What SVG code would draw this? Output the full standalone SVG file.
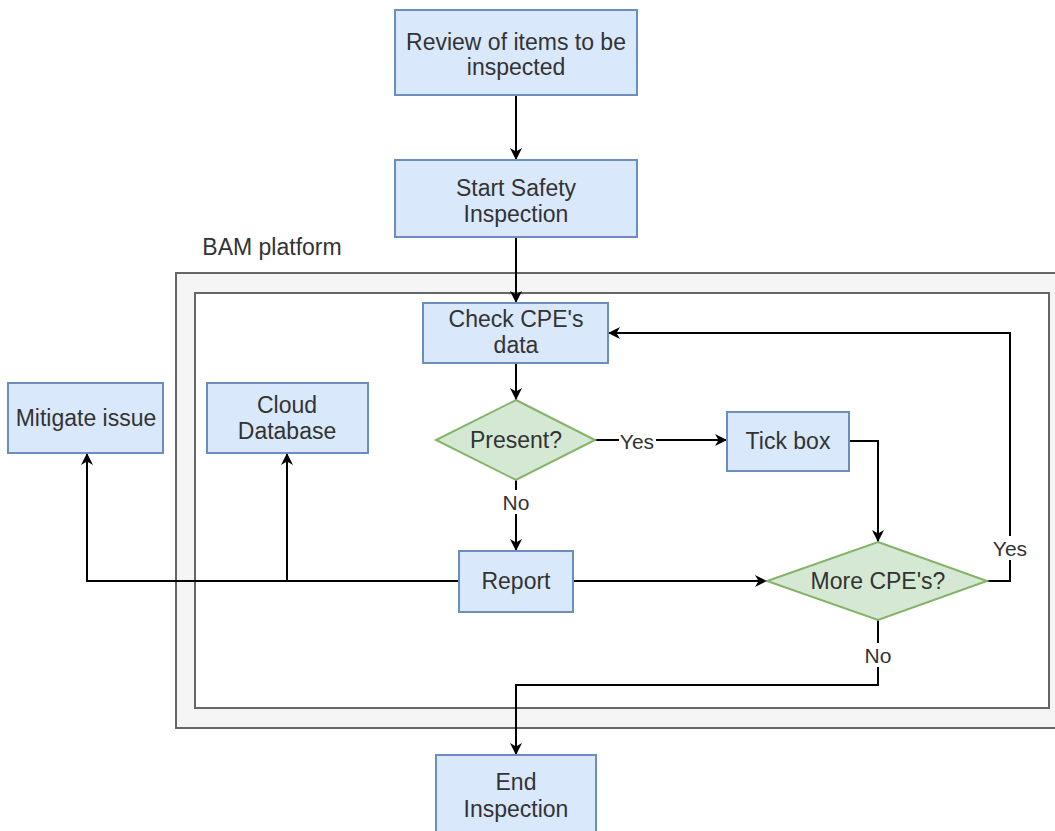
<svg xmlns="http://www.w3.org/2000/svg" width="1055" height="831" viewBox="0 0 1055 831">
  <defs>
    <marker id="arrow" viewBox="0 0 14 14" refX="13" refY="7" markerWidth="14" markerHeight="14" markerUnits="userSpaceOnUse" orient="auto">
      <path d="M1,1 L13,7 L1,13 L4.5,7 Z" fill="#000"/>
    </marker>
    <style>
      text { font-family: "Liberation Sans", Arial, sans-serif; font-size: 23px; fill: #333; text-anchor: middle; }
      .box { fill: #dae8fc; stroke: #6c8ebf; stroke-width: 2; }
      .dia { fill: #d5e8d4; stroke: #82b366; stroke-width: 2; }
      .edge { fill: none; stroke: #000; stroke-width: 2; }
      .lbl { fill: #fff; }
      .small { font-size: 21px; }
    </style>
  </defs>
  <rect width="1055" height="831" fill="#fff"/>

  <!-- platform container -->
  <g id="platform">
    <text x="272" y="255">BAM platform</text>
    <rect x="176" y="273" width="885" height="455" fill="#f5f5f5" stroke="#666" stroke-width="2"/>
    <rect x="195" y="293" width="854" height="415" fill="#fff" stroke="#666" stroke-width="2"/>
  </g>

  <!-- connectors -->
  <g id="connectors">
    <path class="edge" d="M516,95 V160" marker-end="url(#arrow)"/>
    <path class="edge" d="M516,237 V303" marker-end="url(#arrow)"/>
    <path class="edge" d="M516,363 V400" marker-end="url(#arrow)"/>
    <path class="edge" d="M595,440 H727" marker-end="url(#arrow)"/>
    <path class="edge" d="M516,480 V551" marker-end="url(#arrow)"/>
    <path class="edge" d="M849,441 H878 V542" marker-end="url(#arrow)"/>
    <path class="edge" d="M573,581 H767" marker-end="url(#arrow)"/>
    <path class="edge" d="M987,581 H1010 V333 H608" marker-end="url(#arrow)"/>
    <path class="edge" d="M878,620 V685 H516 V755" marker-end="url(#arrow)"/>
    <path class="edge" d="M459,581 H87 V453" stroke="#333" marker-end="url(#arrow)"/>
    <path class="edge" d="M287,581 V453" marker-end="url(#arrow)"/>
    <!-- edge labels -->
    <rect class="lbl" x="619" y="429" width="37" height="24"/>
    <text x="637" y="449" class="small">Yes</text>
    <rect class="lbl" x="502" y="490" width="28" height="24"/>
    <text x="516" y="510" class="small">No</text>
    <rect class="lbl" x="992" y="536" width="37" height="24"/>
    <text x="1010" y="556" class="small">Yes</text>
    <rect class="lbl" x="864" y="643" width="28" height="24"/>
    <text x="878" y="663" class="small">No</text>
  </g>

  <g id="review">
    <rect class="box" x="395" y="10" width="242" height="85"/>
    <text x="516" y="50">Review of items to be</text>
    <text x="516" y="75">inspected</text>
  </g>

  <g id="start">
    <rect class="box" x="395" y="160" width="242" height="77"/>
    <text x="516" y="196">Start Safety</text>
    <text x="516" y="222">Inspection</text>
  </g>

  <g id="check">
    <rect class="box" x="423" y="303" width="185" height="60"/>
    <text x="516" y="327">Check CPE's</text>
    <text x="516" y="353">data</text>
  </g>

  <g id="present">
    <polygon class="dia" points="516,400 595,440 516,480 436,440"/>
    <text x="516" y="448">Present?</text>
  </g>

  <g id="tick">
    <rect class="box" x="727" y="412" width="122" height="59"/>
    <text x="788" y="449">Tick box</text>
  </g>

  <g id="report">
    <rect class="box" x="459" y="551" width="114" height="61"/>
    <text x="516" y="589">Report</text>
  </g>

  <g id="more">
    <polygon class="dia" points="878,542 987,581 878,620 767,581"/>
    <text x="878" y="589">More CPE's?</text>
  </g>

  <g id="mitigate">
    <rect class="box" x="8" y="383" width="155" height="70"/>
    <text x="86" y="426">Mitigate issue</text>
  </g>

  <g id="cloud">
    <rect class="box" x="207" y="383" width="161" height="70"/>
    <text x="287" y="413">Cloud</text>
    <text x="287" y="439">Database</text>
  </g>

  <g id="end">
    <rect class="box" x="436" y="755" width="160" height="85"/>
    <text x="516" y="790">End</text>
    <text x="516" y="817">Inspection</text>
  </g>
</svg>
